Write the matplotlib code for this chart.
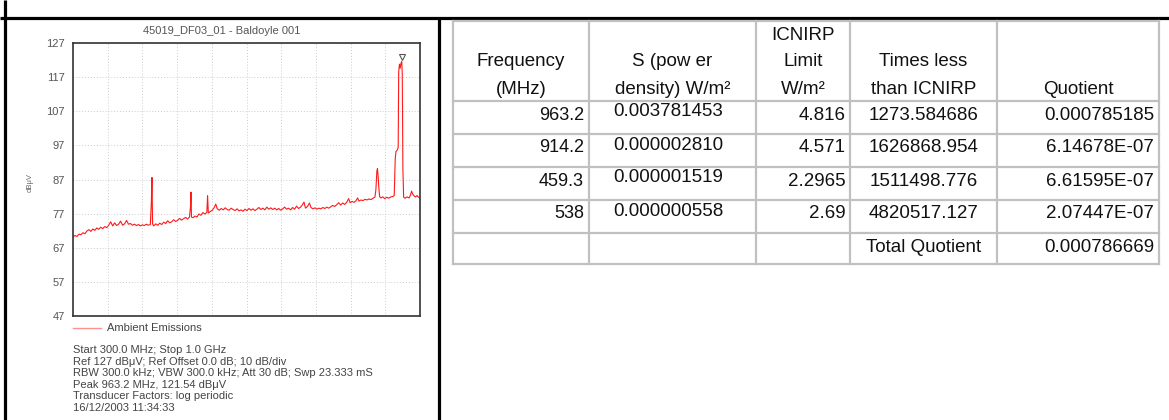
import numpy as np
import matplotlib
matplotlib.use("Agg")
import matplotlib.pyplot as plt
from matplotlib.transforms import ScaledTranslation

plt.rcParams['font.family'] = ['Liberation Sans', 'DejaVu Sans']

# spectrum trace (MHz, dBuV)
freq_mhz = [300, 304, 308, 312, 316, 320, 324, 328, 332, 336, 340, 344, 348, 352, 356, 360,
            364, 368, 372, 376, 380, 384, 388, 392, 396, 400, 404, 408, 412, 416, 420, 424,
            428, 432, 436, 440, 444, 448, 452, 456, 458, 459.3, 460.5, 463, 467, 471, 475, 479,
            483, 487, 491, 495, 499, 503, 507, 511, 515, 519, 523, 527, 531, 535, 537, 538,
            539, 542, 546, 550, 554, 558, 562, 566, 570, 571.5, 573, 577, 581, 585, 588, 591,
            595, 599, 603, 607, 611, 615, 619, 623, 627, 631, 635, 639, 643, 647, 651, 655,
            659, 663, 667, 671, 675, 679, 683, 687, 691, 695, 699, 703, 707, 711, 715, 719,
            723, 727, 731, 735, 739, 743, 747, 751, 755, 759, 763, 766, 769, 773, 777, 780,
            784, 788, 792, 796, 800, 804, 808, 812, 816, 820, 824, 828, 832, 836, 840, 844,
            848, 852, 856, 859, 863, 867, 871, 874, 877, 881, 885, 889, 893, 897, 901, 905,
            909, 911, 913, 914.2, 915.5, 917, 918.5, 921, 925, 929, 933, 937, 941, 945, 948,
            950, 951.5, 954, 956, 957, 958.5, 960, 961.5, 963.2, 964.2, 965.5, 967, 970, 974,
            978, 981, 983, 985, 988, 991, 994, 997, 1000]
level_dbuv = [70.2, 70.6, 70.3, 71.0, 70.8, 71.4, 71.1, 71.9, 72.3, 71.8, 72.5, 72.1, 72.8, 72.4, 73.0, 72.6,
              73.2, 72.9, 73.6, 74.6, 73.4, 74.3, 73.5, 73.9, 74.8, 73.6, 74.0, 75.0, 73.9, 74.1, 73.6, 73.9,
              73.5, 73.8, 73.4, 73.7, 73.5, 73.9, 73.6, 73.8, 80.0, 87.6, 74.0, 73.4, 74.0, 73.6, 74.2, 73.8,
              74.5, 74.1, 74.9, 74.3, 74.6, 75.2, 74.7, 75.0, 75.6, 75.1, 75.5, 75.9, 75.4, 76.0, 79.0, 83.3,
              76.0, 75.8, 76.3, 76.0, 76.9, 76.5, 77.3, 76.9, 77.3, 82.3, 77.2, 77.6, 78.0, 78.8, 79.8, 78.4,
              78.0, 78.5, 78.1, 78.7, 78.2, 78.0, 78.6, 78.2, 77.9, 78.4, 77.8, 78.1, 77.7, 78.3, 77.9, 78.5,
              78.0, 78.4, 77.9, 78.3, 78.8, 78.2, 78.6, 78.1, 78.9, 78.3, 78.7, 78.2, 78.6, 78.1, 78.5, 78.0,
              78.4, 78.9, 78.3, 78.6, 78.1, 78.8, 78.3, 79.2, 78.5, 78.9, 79.6, 80.4, 78.6, 79.1, 80.1, 78.8,
              78.4, 78.7, 78.3, 78.6, 78.4, 78.8, 78.5, 78.9, 78.6, 79.0, 79.4, 79.1, 79.6, 80.2, 79.5, 80.1,
              79.7, 80.3, 81.4, 80.2, 80.6, 80.3, 80.8, 81.6, 80.7, 81.0, 80.8, 81.2, 81.0, 81.3, 81.1, 81.5,
              81.8, 84.0, 89.5, 90.2, 88.0, 84.5, 82.0, 81.6, 81.9, 81.4, 81.8, 81.5, 81.9, 82.0, 82.3,
              93.0, 95.2, 95.6, 96.4, 118.5, 120.8, 119.6, 121.0, 121.54, 118.0, 90.0, 81.8, 81.5, 81.9,
              81.6, 82.5, 83.6, 82.8, 82.2, 81.9, 82.3, 81.8, 81.6]
peak_freq = 963.2
peak_level = 121.54
y_ticks = [47, 57, 67, 77, 87, 97, 107, 117, 127]

chart_title = "45019_DF03_01 - Baldoyle 001"
legend_label = "Ambient Emissions"
info_lines = ["Start 300.0 MHz; Stop 1.0 GHz",
              "Ref 127 dBμV; Ref Offset 0.0 dB; 10 dB/div",
              "RBW 300.0 kHz; VBW 300.0 kHz; Att 30 dB; Swp 23.333 mS",
              "Peak 963.2 MHz, 121.54 dBμV",
              "Transducer Factors: log periodic",
              "16/12/2003 11:34:33"]

# table
headers = [["Frequency", "(MHz)"],
           ["S (pow er", "density) W/m²"],
           ["ICNIRP", "Limit", "W/m²"],
           ["Times less", "than ICNIRP"],
           ["Quotient"]]
col_freq = ["963.2", "914.2", "459.3", "538", ""]
col_s = ["0.003781453", "0.000002810", "0.000001519", "0.000000558", ""]
col_limit = ["4.816", "4.571", "2.2965", "2.69", ""]
col_times = ["1273.584686", "1626868.954", "1511498.776", "4820517.127", "Total Quotient"]
col_quot = ["0.000785185", "6.14678E-07", "6.61595E-07", "2.07447E-07", "0.000786669"]

W, H = 1169, 420
fig = plt.figure(figsize=(W / 100, H / 100), dpi=100)

# background axes in pixel units for frames / table
bg = fig.add_axes([0, 0, 1, 1])
bg.set_xlim(0, W)
bg.set_ylim(H, 0)
bg.axis('off')

bg.plot([0, W], [18, 18], color='black', lw=2.3, solid_capstyle='butt')
bg.plot([5, 5], [0, H], color='black', lw=2.3, solid_capstyle='butt')
bg.plot([439, 439], [18, H], color='black', lw=2.3, solid_capstyle='butt')

col_x = [453, 589, 756, 850, 997, 1159]
row_y = [21, 101, 134, 167, 200, 233, 264]
grey = '#c0c0c0'
for x in col_x:
    bg.plot([x, x], [row_y[0], row_y[-1]], color=grey, lw=1.6, solid_capstyle='projecting')
for y in row_y:
    bg.plot([col_x[0], col_x[-1]], [y, y], color=grey, lw=1.6, solid_capstyle='projecting')

fs = 13.5
line_y = [89, 62, 36]
for i, lines in enumerate(headers):
    cx = (col_x[i] + col_x[i + 1]) / 2
    for j, t in enumerate(reversed(lines)):
        bg.text(cx, line_y[j], t, ha='center', va='center', fontsize=fs, color='#111')

for r in range(5):
    yc = row_y[r + 1] + 14
    bg.text(col_x[1] - 5, yc, col_freq[r], ha='right', va='center', fontsize=13, color='#111')
    bg.text(668, yc - 3, col_s[r], ha='center', va='center', fontsize=fs, color='#111')
    bg.text(col_x[3] - 4, yc, col_limit[r], ha='right', va='center', fontsize=fs, color='#111')
    bg.text((col_x[3] + col_x[4]) / 2, yc, col_times[r], ha='center', va='center', fontsize=fs, color='#111')
    bg.text(col_x[5] - 5, yc, col_quot[r], ha='right', va='center', fontsize=fs, color='#111')

# spectrum chart
ax = fig.add_axes([73 / W, 1 - 316 / H, (420 - 73) / W, (316 - 43) / H])
ax.plot(freq_mhz, level_dbuv, color='#ff1a1a', lw=0.8)
off = ScaledTranslation(0, 3 / 72, fig.dpi_scale_trans)
ax.plot([peak_freq], [peak_level], marker='v', ms=4, mfc='white', mec='#555', mew=0.8,
        transform=ax.transData + off, clip_on=False)
ax.set_xlim(300, 1000)
ax.set_ylim(47, 127)
ax.set_xticks(np.linspace(300, 1000, 11))
ax.set_yticks(y_ticks)
ax.tick_params(length=0, labelbottom=False, labelsize=8, labelcolor='#555', pad=6)
ax.grid(color='#cccccc', ls=(0, (1, 2)), lw=0.7)
for s in ax.spines.values():
    s.set_color('#333')
    s.set_linewidth(1.2)

fig.text(222 / W, 1 - 31 / H, chart_title, ha='center', va='center', fontsize=8, color='#555')
fig.text(30 / W, 1 - 183 / H, 'dBμV', rotation=90, ha='center', va='center', fontsize=5.5, color='#666')

bg.plot([73, 101], [328, 328], color='#ff9090', lw=1)
bg.text(107, 328, legend_label, ha='left', va='center', fontsize=8, color='#444')
for k, t in enumerate(info_lines):
    bg.text(73, 350 + k * 11.6, t, ha='left', va='center', fontsize=8, color='#444')

fig.savefig('out.png', dpi=100)
